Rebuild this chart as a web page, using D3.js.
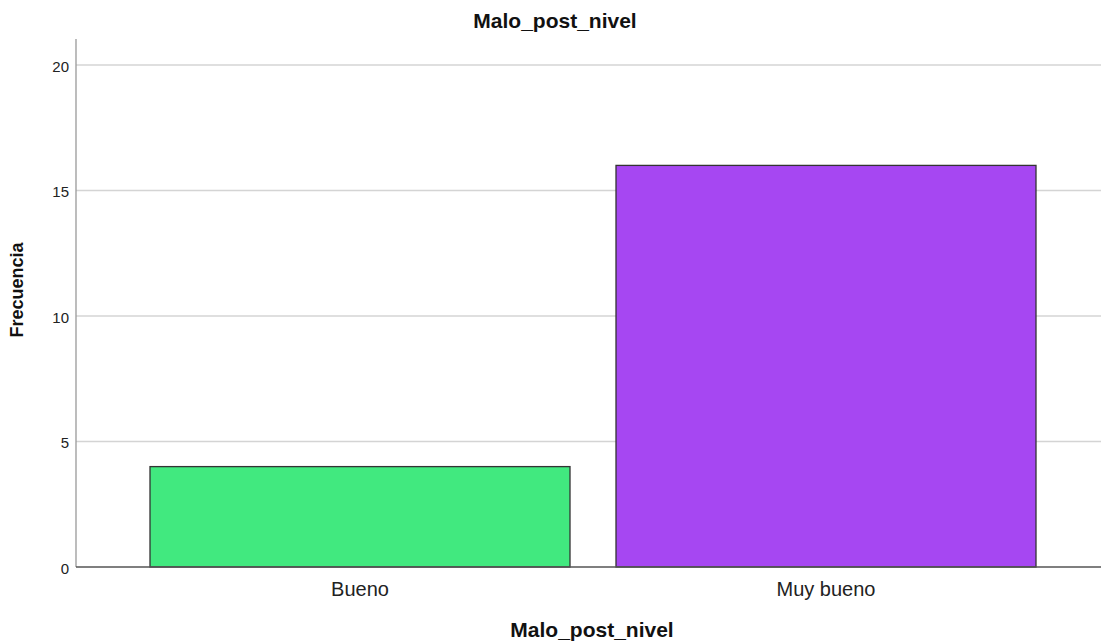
<!DOCTYPE html>
<html><head><meta charset="utf-8">
<script src="https://cdn.jsdelivr.net/npm/d3@7"></script>
<style>body{margin:0;background:#fff}svg{display:block}text{font-family:"Liberation Sans",Arial,sans-serif}</style>
</head><body><svg id="c" width="1101" height="643"></svg>
<script>
const categories = ["Bueno", "Muy bueno"];
const values = [4, 16];
const colors = ["#41e97f", "#a647f2"];
const yTicks = [0, 5, 10, 15, 20];
const title = "Malo_post_nivel";
const xTitle = "Malo_post_nivel";
const yTitle = "Frecuencia";

const svg = d3.select("#c");
const x0 = 76, x1 = 1101, yTop = 39, yBase = 567;
const y = d3.scaleLinear().domain([0, 20]).range([yBase, 65]);
const x = d3.scaleBand().domain(categories).range([150, 1036]).paddingInner(46/466).paddingOuter(0);
const FF = '"Liberation Sans",Arial,sans-serif';

// gridlines
svg.append("g").selectAll("line").data(yTicks.filter(d => d > 0)).join("line")
  .attr("x1", x0).attr("x2", x1).attr("y1", d => y(d)).attr("y2", d => y(d))
  .attr("stroke", "#d4d4d4").attr("stroke-width", 1.3);

// bars
svg.append("g").selectAll("rect").data(categories).join("rect")
  .attr("x", d => x(d)).attr("width", x.bandwidth())
  .attr("y", (d, i) => y(values[i])).attr("height", (d, i) => yBase - y(values[i]))
  .attr("fill", (d, i) => colors[i]).attr("stroke", "#333").attr("stroke-width", 1.3);

// y axis
const yAxis = d3.axisLeft(y).tickValues(yTicks).tickSize(0).tickPadding(7);
const gy = svg.append("g").attr("transform", `translate(${x0},0)`).call(yAxis);
gy.select(".domain").remove();
gy.selectAll("text").attr("font-size", 15).attr("fill", "#222").attr("dy", "0.42em").style("font-family", FF);
svg.append("line").attr("x1", x0).attr("x2", x0).attr("y1", yTop).attr("y2", yBase)
  .attr("stroke", "#999").attr("stroke-width", 1.3);
svg.append("line").attr("x1", x0).attr("x2", x1).attr("y1", yBase).attr("y2", yBase)
  .attr("stroke", "#555").attr("stroke-width", 1.3);

// x axis labels
const xAxis = d3.axisBottom(x).tickSize(0).tickPadding(0);
const gx = svg.append("g").attr("transform", `translate(0,${yBase})`).call(xAxis);
gx.select(".domain").remove();
gx.selectAll("text").attr("font-size", 20).attr("fill", "#222").attr("dy", null).attr("y", 29).style("font-family", FF);

// titles
svg.append("text").attr("x", 555).attr("y", 28).attr("text-anchor", "middle")
  .attr("font-size", 21).attr("font-weight", "bold").attr("fill", "#111").text(title);
svg.append("text").attr("x", 592).attr("y", 637).attr("text-anchor", "middle")
  .attr("font-size", 21).attr("font-weight", "bold").attr("fill", "#111").text(xTitle);
svg.append("text").attr("transform", "translate(23,290) rotate(-90)").attr("text-anchor", "middle")
  .attr("font-size", 18).attr("font-weight", "bold").attr("fill", "#111").text(yTitle);
</script></body></html>
